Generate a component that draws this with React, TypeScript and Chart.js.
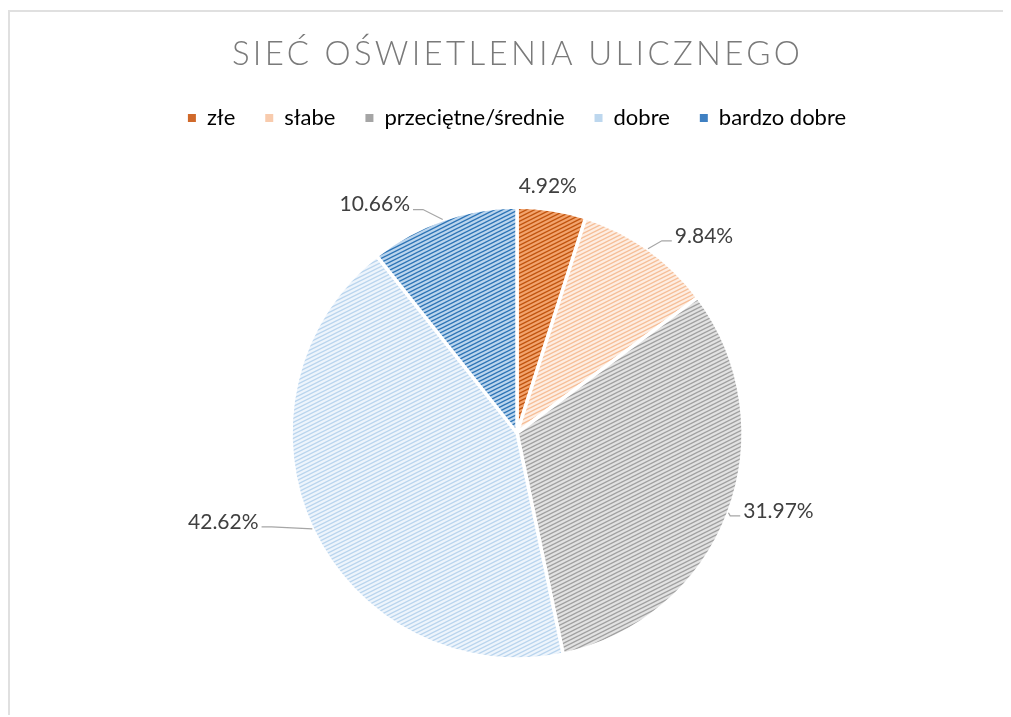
import React, { useEffect, useRef } from "react";
import { Chart, registerables } from "chart.js";

Chart.register(...registerables);

const chartTitle = "SIEĆ OŚWIETLENIA ULICZNEGO";
const categories = ["złe", "słabe", "przeciętne/średnie", "dobre", "bardzo dobre"];
const values = [4.92, 9.84, 31.97, 42.62, 10.66];
const valueLabels = ["4.92%", "9.84%", "31.97%", "42.62%", "10.66%"];

const stripeColors = ["#C0540E", "#F6BE98", "#A0A0A0", "#BAD5EE", "#2E75B6"];
const groundColors = ["#F3A46E", "#FDEEE3", "#E3E3E3", "#EEF5FC", "#BCD6EE"];
const legendColors = ["#D0692A", "#F8CBAD", "#A5A5A5", "#BDD7EE", "#3F80C2"];
// label offset from the slice's outer edge (at mid-angle)
const labelOffsets: [number, number][] = [
  [-4, -23],
  [56, -13],
  [50, -2],
  [-89, -7],
  [-68, -15],
];

const FONT = "Lato, 'Open Sans', sans-serif";

function makePattern(fg: string, bg: string): CanvasPattern | string {
  const c = document.createElement("canvas");
  c.width = 8;
  c.height = 4;
  const x = c.getContext("2d");
  if (!x) return bg;
  x.fillStyle = bg;
  x.fillRect(0, 0, 8, 4);
  x.strokeStyle = fg;
  x.lineWidth = 1.4;
  for (let k = -1; k <= 1; k++) {
    x.beginPath();
    x.moveTo(0, 4 + 4 * k);
    x.lineTo(8, 4 * k);
    x.stroke();
  }
  const p = x.createPattern(c, "repeat");
  return p || bg;
}

const labelPlugin = {
  id: "pieLabels",
  afterDatasetsDraw(chart: any) {
    const ctx = chart.ctx as CanvasRenderingContext2D;
    const meta = chart.getDatasetMeta(0);
    ctx.save();
    ctx.font = `21px ${FONT}`;
    ctx.textAlign = "center";
    ctx.textBaseline = "middle";
    meta.data.forEach((arc: any, i: number) => {
      const { x, y, startAngle, endAngle, outerRadius } = arc.getProps(
        ["x", "y", "startAngle", "endAngle", "outerRadius"],
        true
      );
      const mid = (startAngle + endAngle) / 2;
      const ex = x + Math.cos(mid) * outerRadius;
      const ey = y + Math.sin(mid) * outerRadius;
      const [dx, dy] = labelOffsets[i];
      const lx = ex + dx;
      const ly = ey + dy;
      const w = ctx.measureText(valueLabels[i]).width;
      if (Math.abs(dx) > w / 2 + 6) {
        const side = dx > 0 ? 1 : -1;
        const endX = lx - side * (w / 2 + 3);
        const endY = ly + 5;
        ctx.strokeStyle = "#A6A6A6";
        ctx.lineWidth = 1.2;
        ctx.beginPath();
        ctx.moveTo(ex, ey);
        ctx.lineTo(endX - side * 10, endY);
        ctx.lineTo(endX, endY);
        ctx.stroke();
      }
      ctx.fillStyle = "#404040";
      ctx.fillText(valueLabels[i], lx, ly);
    });
    ctx.restore();
  },
};

const titlePlugin = {
  id: "spacedTitle",
  afterDraw(chart: any) {
    const ctx = chart.ctx as any;
    ctx.save();
    ctx.font = `300 33px ${FONT}`;
    ctx.letterSpacing = "3.3px";
    ctx.fillStyle = "#7A7A7A";
    ctx.textAlign = "center";
    ctx.textBaseline = "middle";
    ctx.fillText(chartTitle, chart.width / 2 + 7, 42);
    ctx.restore();
  },
};

export default function App() {
  const ref = useRef<HTMLCanvasElement | null>(null);

  useEffect(() => {
    document.body.style.overflow = "hidden";
    if (!ref.current) return;
    const fills = stripeColors.map((c, i) => makePattern(c, groundColors[i]));
    const chart = new Chart(ref.current, {
      type: "pie",
      data: {
        labels: categories,
        datasets: [
          {
            data: values,
            backgroundColor: fills as any,
            borderColor: "#FFFFFF",
            borderWidth: 3.5,
            hoverOffset: 0,
          },
        ],
      },
      options: {
        animation: false,
        responsive: false,
        radius: 226,
        layout: { padding: { top: 65, left: 13, right: 0, bottom: 25 } },
        plugins: {
          title: { display: false },
          tooltip: { enabled: false },
          legend: {
            display: true,
            position: "top",
            labels: {
              boxWidth: 8,
              boxHeight: 8,
              padding: 30,
              color: "#595959",
              font: { family: FONT, size: 22 },
              generateLabels: () =>
                categories.map((c, i) => ({
                  text: c,
                  fillStyle: legendColors[i],
                  strokeStyle: legendColors[i],
                  lineWidth: 0,
                  hidden: false,
                  index: i,
                })),
            },
          },
        },
      } as any,
      plugins: [labelPlugin, titlePlugin],
    });
    return () => chart.destroy();
  }, []);

  return (
    <div
      style={{
        position: "relative",
        top: 2,
        width: 1001,
        height: 705,
        overflow: "hidden",
        borderLeft: "2px solid #E0E0E0",
        borderTop: "2px solid #E0E0E0",
      }}
    >
      <canvas ref={ref} width={1001} height={740} style={{ display: "block" }} />
    </div>
  );
}
